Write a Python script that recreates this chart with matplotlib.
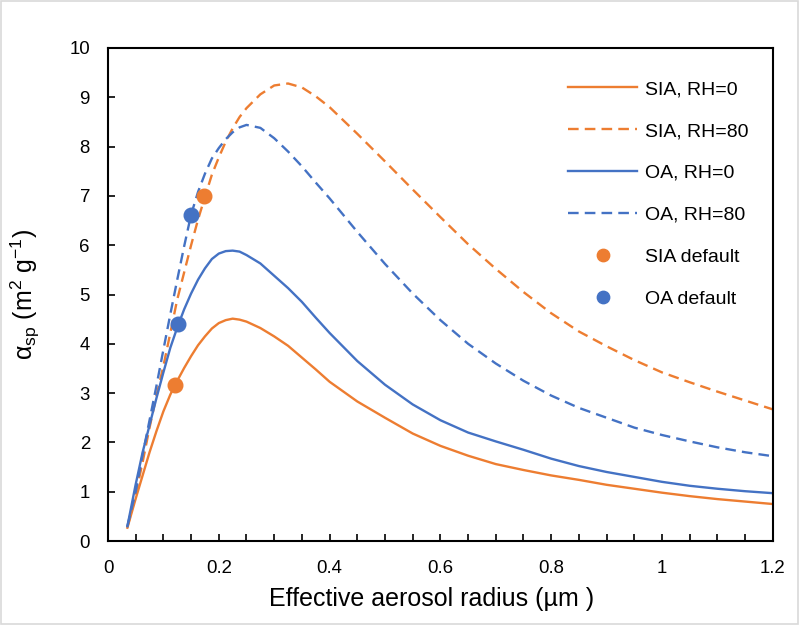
import numpy as np
import matplotlib
matplotlib.use("Agg")
import matplotlib.pyplot as plt
from matplotlib.patches import Rectangle

plt.rcParams['font.family'] = ['Liberation Sans', 'DejaVu Sans']
plt.rcParams['mathtext.default'] = 'regular'

# effective radius (um)
radius = [0.035, 0.05, 0.0625, 0.075, 0.0875, 0.1, 0.1125, 0.125, 0.1375, 0.15,
          0.1625, 0.175, 0.1875, 0.2, 0.2125, 0.225, 0.2375, 0.25, 0.275, 0.3,
          0.325, 0.35, 0.375, 0.4, 0.45, 0.5, 0.55, 0.6, 0.65, 0.7,
          0.75, 0.8, 0.85, 0.9, 0.95, 1.0, 1.05, 1.1, 1.15, 1.2]

# mass scattering efficiency (m2 g-1)
sia_rh0 = [0.27, 0.86, 1.33, 1.80, 2.23, 2.63, 2.97, 3.25, 3.51, 3.75,
           3.97, 4.15, 4.31, 4.42, 4.48, 4.51, 4.49, 4.45, 4.32, 4.15,
           3.96, 3.72, 3.48, 3.23, 2.83, 2.50, 2.18, 1.93, 1.73, 1.56,
           1.44, 1.33, 1.24, 1.14, 1.06, 0.98, 0.91, 0.85, 0.80, 0.75]
sia_rh80 = [0.28, 0.95, 1.60, 2.30, 2.95, 3.55, 4.22, 4.90, 5.45, 6.00,
            6.52, 6.98, 7.43, 7.78, 8.10, 8.37, 8.60, 8.78, 9.06, 9.24,
            9.28, 9.20, 9.02, 8.80, 8.26, 7.70, 7.13, 6.57, 6.02, 5.52,
            5.05, 4.62, 4.25, 3.95, 3.67, 3.42, 3.22, 3.03, 2.85, 2.67]
oa_rh0 = [0.30, 1.15, 1.80, 2.35, 2.90, 3.42, 3.92, 4.33, 4.70, 5.02,
          5.30, 5.53, 5.72, 5.83, 5.88, 5.89, 5.87, 5.80, 5.63, 5.38,
          5.13, 4.85, 4.53, 4.22, 3.65, 3.17, 2.77, 2.45, 2.20, 2.02,
          1.85, 1.67, 1.52, 1.40, 1.30, 1.20, 1.12, 1.06, 1.01, 0.97]
oa_rh80 = [0.30, 1.00, 1.75, 2.45, 3.15, 3.88, 4.60, 5.30, 5.98, 6.62,
           7.08, 7.45, 7.76, 7.97, 8.15, 8.29, 8.39, 8.44, 8.38, 8.17,
           7.90, 7.60, 7.27, 6.95, 6.27, 5.62, 5.02, 4.48, 4.00, 3.60,
           3.25, 2.95, 2.70, 2.50, 2.30, 2.15, 2.02, 1.90, 1.80, 1.72]

# default model points
sia_def_x = [0.121, 0.174]
sia_def_y = [3.16, 7.0]
oa_def_x = [0.126, 0.149]
oa_def_y = [4.4, 6.62]

ORANGE = '#ED7D31'
BLUE = '#4472C4'

fig = plt.figure(figsize=(8, 6.25), dpi=100)
ax = fig.add_axes([0.135, 0.1344, 0.831, 0.7888])

lw = 1.7
dash = (4.5, 2.6)
ax.plot(radius, sia_rh0, color=ORANGE, lw=lw, label='SIA, RH=0')
ax.plot(radius, sia_rh80, color=ORANGE, lw=lw, ls=(0, dash), label='SIA, RH=80')
ax.plot(radius, oa_rh0, color=BLUE, lw=lw, label='OA, RH=0')
ax.plot(radius, oa_rh80, color=BLUE, lw=lw, ls=(0, dash), label='OA, RH=80')
ax.plot(sia_def_x, sia_def_y, 'o', color=ORANGE, ms=10.5, label='SIA default')
ax.plot(oa_def_x, oa_def_y, 'o', color=BLUE, ms=10.5, label='OA default')

ax.set_xlim(0, 1.2)
ax.set_ylim(0, 10)
ax.set_xticks(np.arange(0, 1.21, 0.2))
ax.set_xticklabels(['0', '0.2', '0.4', '0.6', '0.8', '1', '1.2'])
ax.set_xticks(np.arange(0, 1.21, 0.05), minor=True)
ax.set_yticks(range(0, 11))
ax.tick_params(axis='both', which='major', direction='in', length=5, width=1.2,
               labelsize=13.4)
ax.tick_params(axis='x', which='major', pad=14)
ax.tick_params(axis='y', which='major', pad=13)
ax.tick_params(axis='x', which='minor', direction='in', length=5, width=1.2)
for s in ax.spines.values():
    s.set_linewidth(1.5)

ax.set_xlabel('Effective aerosol radius (µm )', fontsize=18)
ax.xaxis.set_label_coords(0.487, -0.093)
ax.set_ylabel('α$_{sp}$ (m$^{2}$ g$^{-1}$)', fontsize=18)
ax.yaxis.set_label_coords(-0.1, 0.5)

leg = ax.legend(loc='upper left', bbox_to_anchor=(0.692, 0.934), frameon=False,
                fontsize=14, borderpad=0, borderaxespad=0, labelspacing=1.25,
                handlelength=3.55, handletextpad=0.4, markerscale=0.85)

fig.patches.append(Rectangle((0.001, 0.002), 0.997, 0.996, transform=fig.transFigure,
                             fill=False, edgecolor='#d9d9d9', lw=1.2))

fig.savefig('out.png', dpi=100)
